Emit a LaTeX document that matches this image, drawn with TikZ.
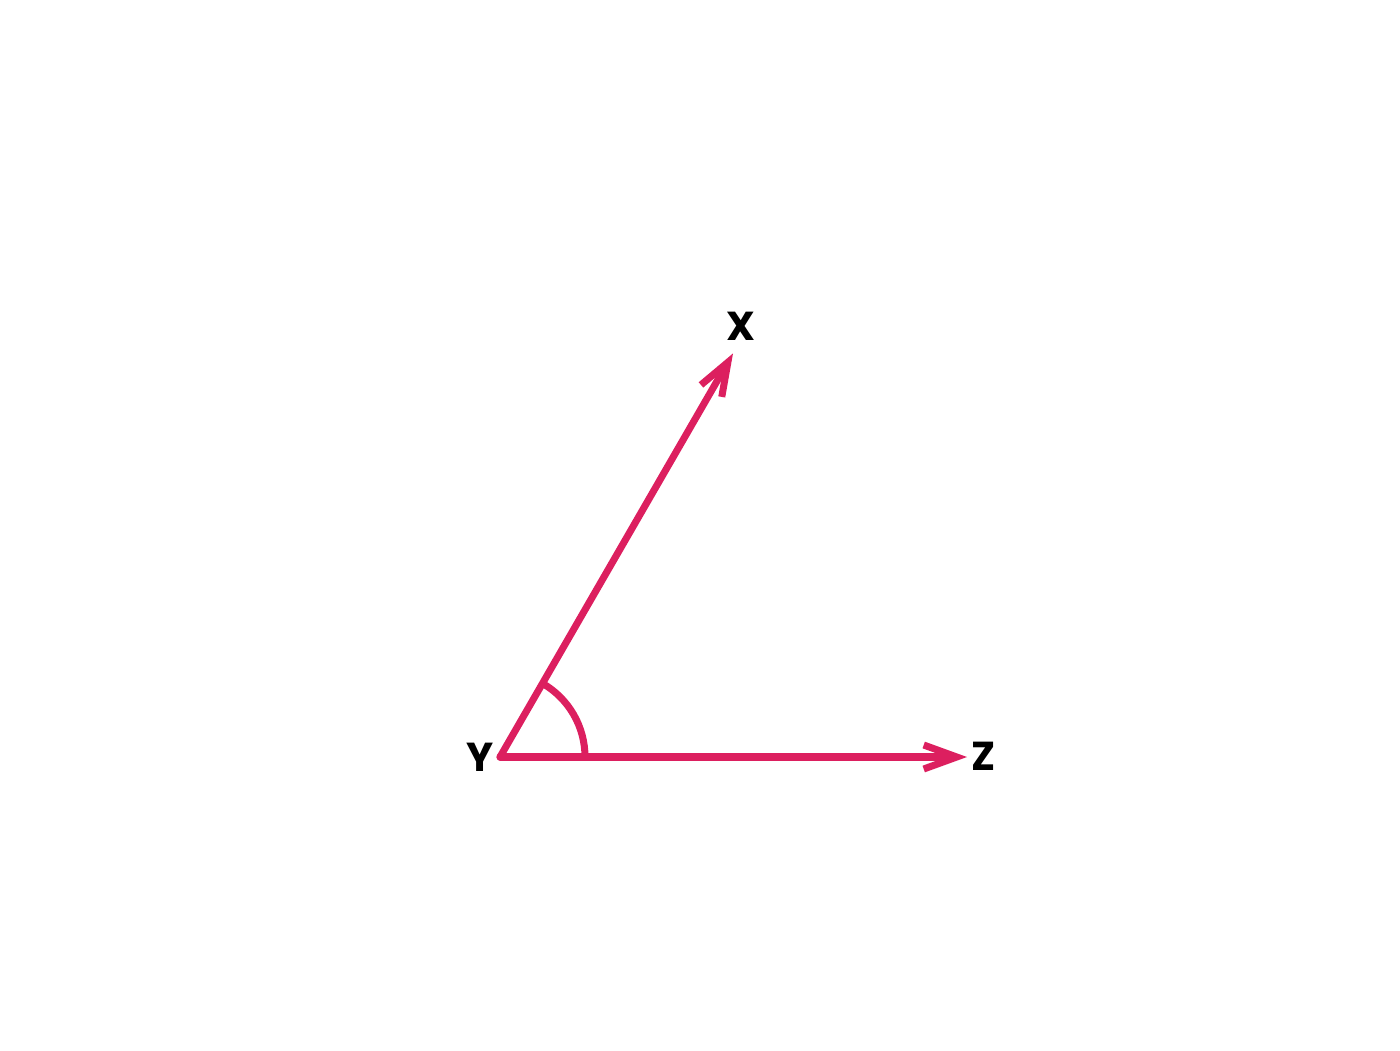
\documentclass[tikz,border=0pt]{standalone}
\usepackage{fontspec}
\setmainfont{Poppins}
\usepackage{tikz}
\usetikzlibrary{arrows.meta,calc}
\definecolor{raycol}{HTML}{DC1F5F}

\begin{document}
\begin{tikzpicture}
      \useasboundingbox (0, 0) rectangle (14, 10.5);
      \coordinate (y) at (5, 2.93);
      \coordinate (x) at ($(y) + (60:4.66)$);
      \coordinate (z) at (9.67, 2.93);
      \node[font=\fontsize{11.5}{13}\selectfont\bfseries] (lx) at (7.41, 7.24) {X};
      \node[font=\fontsize{11.5}{13}\selectfont\bfseries] (ly) at (4.80, 2.93) {Y};
      \node[font=\fontsize{11.5}{13}\selectfont\bfseries] (lz) at (9.84, 2.94) {Z};
      \draw[raycol,line width=2pt,line cap=round,line join=round,-{Straight Barb[length=3.3mm,width=2.4mm]}] (y) -- (x);
      \draw[raycol,line width=2pt,line cap=round,line join=round,-{Straight Barb[length=3.3mm,width=2.4mm]}] (y) -- (z);
      \draw[raycol,line width=2pt] (y) ++(0.85, 0) arc (0:60:0.85);
    \end{tikzpicture}
\end{document}
